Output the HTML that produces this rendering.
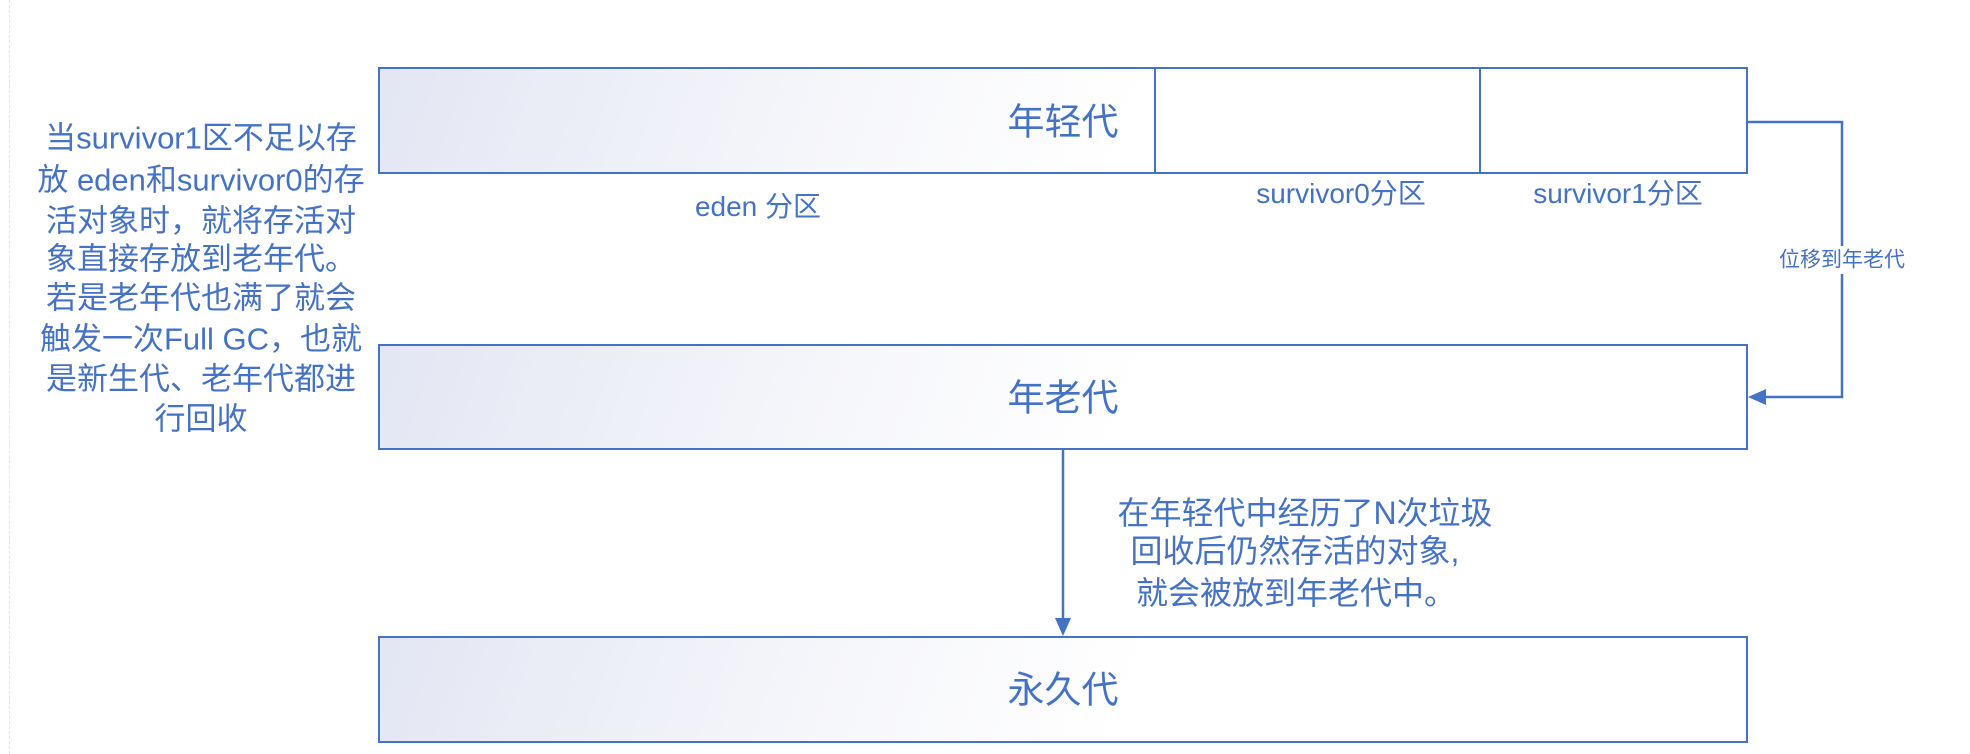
<!DOCTYPE html>
<html><head><meta charset="utf-8"><style>
html,body{margin:0;padding:0;background:#fff;}
body{width:1970px;height:754px;position:relative;overflow:hidden;font-family:"Liberation Sans","Noto Sans CJK SC",sans-serif;color:#4472c4;}
.box{position:absolute;border:2px solid #4472c4;box-sizing:border-box;background:linear-gradient(110deg,#e3e6f3 0%,#f4f5fa 30%,#ffffff 55%,#ffffff 100%);}
.t{position:absolute;white-space:nowrap;line-height:1;}
.c{transform:translate(-50%,-50%);}
</style></head><body>
<div style="position:absolute;left:9px;top:0;width:0;height:754px;border-left:1px dashed #e4e4e4;"></div>
<div class="box" style="left:378px;top:67px;width:1370px;height:107px;"></div>
<div style="position:absolute;left:1156px;top:69px;width:590px;height:103px;background:#fff;"></div>
<div style="position:absolute;left:1154px;top:67px;width:2px;height:107px;background:#4472c4;"></div>
<div style="position:absolute;left:1479px;top:67px;width:2px;height:107px;background:#4472c4;"></div>
<div class="box" style="left:378px;top:344px;width:1370px;height:106px;"></div>
<div class="box" style="left:378px;top:636px;width:1370px;height:107px;"></div>

<svg width="1970" height="754" style="position:absolute;left:0;top:0">
<polyline points="1748,122 1842,122 1842,397 1762,397" fill="none" stroke="#4472c4" stroke-width="2.5"/>
<polygon points="1748,397 1766,389 1766,405" fill="#4472c4"/>
<line x1="1063" y1="450" x2="1063" y2="620" stroke="#4472c4" stroke-width="2.5"/>
<polygon points="1063,636 1055,618 1071,618" fill="#4472c4"/>
<rect x="1804" y="246" width="76" height="28" fill="#fff"/>
</svg>

<div class="t c" style="left:1063px;top:122px;font-size:37px;">年轻代</div>
<div class="t c" style="left:1063px;top:398px;font-size:37px;">年老代</div>
<div class="t c" style="left:1063px;top:690px;font-size:37px;">永久代</div>
<div class="t c" style="left:758px;top:207px;font-size:28px;">eden 分区</div>
<div class="t c" style="left:1341px;top:194px;font-size:28px;">survivor0分区</div>
<div class="t c" style="left:1618px;top:194px;font-size:28px;">survivor1分区</div>
<div class="t c" style="left:1842px;top:260px;font-size:21px;">位移到年老代</div>

<div class="t c" style="left:1305px;top:513px;font-size:32px;">在年轻代中经历了N次垃圾</div>
<div class="t c" style="left:1295px;top:551px;font-size:32px;">回收后仍然存活的对象,</div>
<div class="t c" style="left:1296px;top:593px;font-size:32px;">就会被放到年老代中。</div>

<div class="t c" style="left:201px;top:138px;font-size:31px;">当survivor1区不足以存</div>
<div class="t c" style="left:201px;top:180px;font-size:31px;">放 eden和survivor0的存</div>
<div class="t c" style="left:201px;top:221px;font-size:31px;">活对象时，就将存活对</div>
<div class="t c" style="left:201px;top:259px;font-size:31px;">象直接存放到老年代。</div>
<div class="t c" style="left:201px;top:298px;font-size:31px;">若是老年代也满了就会</div>
<div class="t c" style="left:201px;top:339px;font-size:31px;">触发一次Full GC，也就</div>
<div class="t c" style="left:201px;top:379px;font-size:31px;">是新生代、老年代都进</div>
<div class="t c" style="left:201px;top:419px;font-size:31px;">行回收</div>
</body></html>
